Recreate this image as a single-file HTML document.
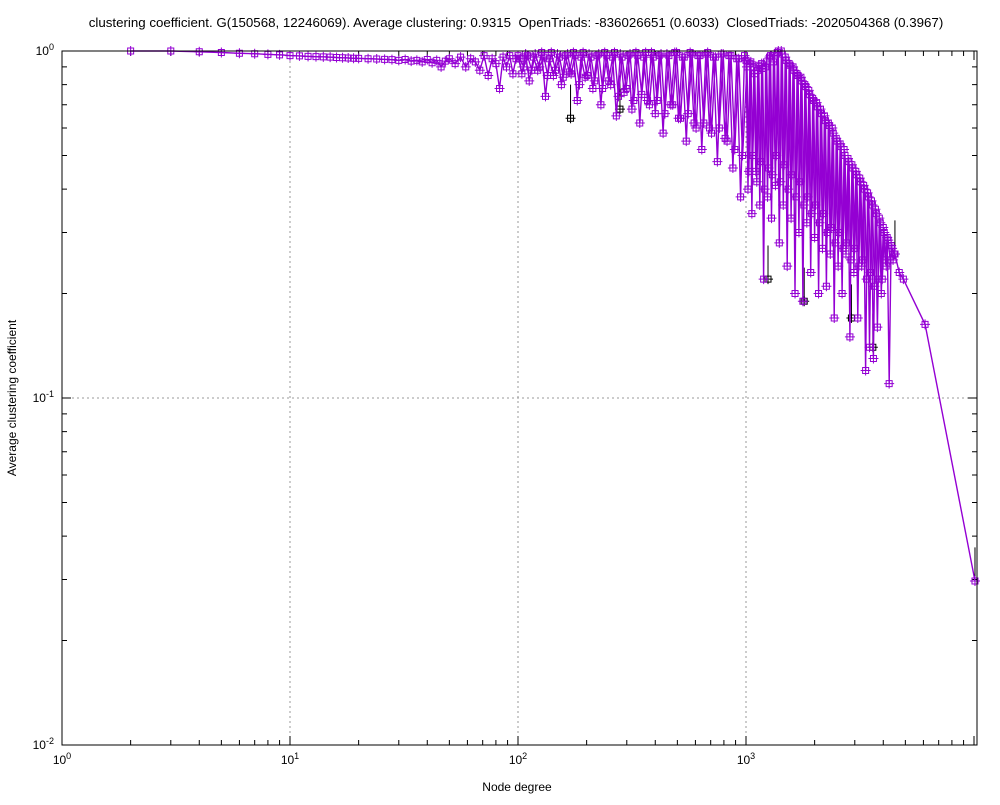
<!DOCTYPE html>
<html><head><meta charset="utf-8"><style>
body{margin:0;background:#fff;font-family:"Liberation Sans",Arial,sans-serif}
svg text{font-family:"Liberation Sans",Arial,sans-serif;font-size:12px;fill:#000}
</style></head><body>
<svg id="chart" width="1000" height="800" xmlns="http://www.w3.org/2000/svg">
<rect width="1000" height="800" fill="#fff"/>
<text x="516" y="27" text-anchor="middle" style="white-space:pre;font-size:13.3px">clustering coefficient. G(150568, 12246069). Average clustering: 0.9315  OpenTriads: -836026651 (0.6033)  ClosedTriads: -2020504368 (0.3967)</text>
<text x="517" y="791" text-anchor="middle">Node degree</text>
<text transform="translate(16,398) rotate(-90)" text-anchor="middle">Average clustering coefficient</text>
<g id="grid"></g><g id="axes"></g><g id="series"></g>
<rect x="62" y="51" width="915" height="694" fill="none" stroke="#000" stroke-width="1"/>
</svg>
<script>
const degrees=[2,3,4,5,6,7,8,9,10,11,12,13,14,15,16,17,18,19,20,22,24,26,28,30,32,34,36,38,40,42,44,46,48,50,53,56,59,62,65,68,71,74,77,80,83,86,89,92,95,98,
100,104,108,112,117,122,127,132,137,143,149,155,161,168,175,182,189,197,205,213,222,231,240,250,260,270,281,292,304,316,329,342,356,370,385,400,416,433,450,468,487,506,526,547,569,592,616,640,666,692,720,749,779,810,842,876,911,947,985,
1000,1020,1040,1061,1082,1104,1126,1149,1172,1195,1219,1243,1268,1294,1319,1346,1373,1400,1428,1457,1486,1516,1546,1577,1608,1641,1673,1707,1741,1776,1811,1848,1885,1922,1961,2000,2040,2081,2122,2165,2208,2252,2297,2343,2390,2438,2487,2536,2587,2639,2692,2745,2800,2856,2913,2972,3031,3092,3154,3217,3281,3347,3414,3482,3551,3622,3695,3769,3844,3921,4000,4080,4161,4245,4330,4416,4500,4700,4900,6100,10100];
const clustering=[1,1,0.995,0.99,0.985,0.982,0.978,0.975,0.97,0.968,0.965,0.963,0.962,0.96,0.958,0.956,0.955,0.953,0.952,0.95,0.948,0.946,0.944,0.94,0.945,0.935,0.94,0.93,0.945,0.925,0.94,0.90,0.935,0.95,0.92,0.96,0.90,0.95,0.93,0.88,0.97,0.85,0.95,0.92,0.78,0.96,0.90,0.97,0.86,0.95,
0.97,0.86,0.98,0.82,0.96,0.88,0.99,0.74,0.95,0.85,0.98,0.80,0.97,0.87,0.99,0.72,0.96,0.84,0.98,0.78,0.97,0.70,0.99,0.82,0.96,0.65,0.98,0.76,0.97,0.68,0.99,0.62,0.96,0.72,0.99,0.66,0.97,0.58,0.98,0.70,0.99,0.64,0.96,0.55,0.99,0.62,0.97,0.52,0.98,0.60,0.96,0.48,0.98,0.56,0.97,0.46,0.95,0.38,0.97,
0.94,0.40,0.92,0.34,0.90,0.45,0.88,0.36,0.92,0.22,0.90,0.38,0.96,0.33,0.93,0.41,0.99,0.28,1.0,0.36,0.96,0.24,0.92,0.33,0.90,0.20,0.86,0.30,0.84,0.19,0.80,0.32,0.77,0.23,0.73,0.29,0.71,0.20,0.68,0.27,0.65,0.21,0.62,0.26,0.60,0.17,0.56,0.24,0.54,0.20,0.52,0.26,0.49,0.15,0.47,0.23,0.45,0.17,0.43,0.24,0.41,0.12,0.39,0.14,0.37,0.13,0.35,0.16,0.33,0.20,0.31,0.25,0.29,0.11,0.275,0.25,0.26,0.23,0.22,0.163,0.0297];
const extraDegrees=[102,106,110,115,119,124,130,135,140,146,152,158,165,171,178,186,193,201,209,217,226,235,245,255,265,276,286,298,310,322,335,349,363,377,392,408,424,441,459,477,496,516,536,558,580,604,628,653,679,706,734,764,794,826,859,893,929,966,
1010,1030,1050,1071,1093,1115,1137,1160,1183,1207,1231,1255,1281,1306,1332,1359,1386,1414,1442,1471,1501,1531,1561,1592,1624,1657,1690,1724,1758,1793,1829,1866,1903,1941,1980,2020,2060,2101,2143,2186,2230,2274,2320,2366,2414,2462,2511,2561,2613,2665,2718,2772,2828,2884,2942,3001,3061,3123,3185,3249,3314,3380,3448,3516,3586,3658,3732,3806,3882,3960,4040,4120,4203,4287,4373,4458];
const extraClustering=[0.95,0.90,0.97,0.88,0.98,0.90,0.96,0.85,0.99,0.88,0.96,0.84,0.98,0.86,0.97,0.80,0.99,0.85,0.96,0.82,0.98,0.78,0.97,0.80,0.99,0.74,0.96,0.78,0.98,0.72,0.97,0.75,0.99,0.70,0.96,0.72,0.98,0.66,0.97,0.70,0.99,0.64,0.96,0.66,0.98,0.60,0.97,0.62,0.99,0.58,0.96,0.60,0.98,0.55,0.97,0.52,0.95,0.50,
0.90,0.45,0.93,0.50,0.86,0.42,0.91,0.48,0.89,0.40,0.93,0.46,0.97,0.44,0.98,0.50,1.0,0.42,0.98,0.47,0.94,0.40,0.91,0.44,0.88,0.38,0.85,0.42,0.82,0.36,0.79,0.38,0.75,0.34,0.72,0.36,0.69,0.32,0.66,0.34,0.63,0.30,0.61,0.31,0.58,0.28,0.55,0.30,0.53,0.27,0.50,0.28,0.48,0.25,0.46,0.27,0.44,0.24,0.42,0.25,0.40,0.22,0.38,0.23,0.36,0.21,0.34,0.22,0.32,0.22,0.30,0.24,0.285,0.25,0.27,0.26];
const blackDegrees=[170,280,1249,1800,2900,3600,4500,10100];
const blackValues=[0.64,0.68,0.22,0.19,0.17,0.14,0.26,0.0297];
const xTickExps=[0,1,2,3];
const yTickExps=[0,-1,-2];

const X0=62,X1=977,Y0=51,Y1=745,DEC_X=228,DEC_Y=347;
const xs=d=>X0+Math.log10(d)*DEC_X;
const ys=v=>Y0-Math.log10(v)*DEC_Y;
const NS="http://www.w3.org/2000/svg";
function mk(tag,attrs,parent){const e=document.createElementNS(NS,tag);for(const k in attrs)e.setAttribute(k,attrs[k]);parent.appendChild(e);return e;}
const grid=document.getElementById('grid'),axes=document.getElementById('axes'),ser=document.getElementById('series');

xTickExps.forEach(p=>{const x=xs(Math.pow(10,p));
 if(p>0){const g=mk('line',{x1:x,x2:x,y1:Y0,y2:Y1,stroke:'#999','stroke-dasharray':'2,3','stroke-width':1},grid);
 
 }
 const t=mk('text',{x:x,y:Y1+19,'text-anchor':'middle'},axes);
 
 
 t.innerHTML='10<tspan dy="-5" font-size="9">'+p+'</tspan>';
});
yTickExps.forEach(p=>{const y=ys(Math.pow(10,p));
 if(p<0&&p>-2){const g=mk('line',{x1:X0,x2:X1,y1:y,y2:y,stroke:'#999','stroke-dasharray':'2,3','stroke-width':1},grid);
 
 }
 const t=mk('text',{x:X0-8,y:y+4,'text-anchor':'end'},axes);
 
 
 t.innerHTML='10<tspan dy="-5" font-size="9">'+p+'</tspan>';
});
let tp='';
for(let p=0;p<5;p++)for(let m=1;m<10;m++){const d=m*Math.pow(10,p);if(d>10200)break;const x=xs(d);const L=m==1?9:5;
 tp+=`M${x} ${Y1}v${-L}M${x} ${Y0}v${L}`;}
for(let p=-2;p<0;p++)for(let m=1;m<10;m++){const y=ys(m*Math.pow(10,p));const L=m==1?9:5;
 tp+=`M${X0} ${y}h${L}M${X1} ${y}h${-L}`;}
const tk=mk('path',{d:tp,stroke:'#000','stroke-width':1,fill:'none'},axes);



function marker(x,y,c,parent){return mk('path',{d:`M${x-3} ${y-3}h6v6h-6zM${x-5} ${y}h10M${x} ${y-5}v10`,stroke:c,fill:'none','stroke-width':1},parent);}

let bd='';blackDegrees.forEach((d,i)=>{const x=xs(d),y=ys(blackValues[i]);bd+=`M${x} ${y}V${ys(blackValues[i]*1.25)}`;});
const bl=mk('path',{d:bd,stroke:'#000',fill:'none'},ser);


blackDegrees.forEach((d,i)=>{const m=marker(xs(d),ys(blackValues[i]),'#000',ser);
 
 });

const ed=extraDegrees.map((d,i)=>(i&&d-extraDegrees[i-1]<200?'L':'M')+xs(d).toFixed(1)+' '+ys(extraClustering[i]).toFixed(1)).join('');
const el2=mk('path',{d:ed,stroke:'#9400d3',fill:'none','stroke-width':1.4},ser);


extraDegrees.forEach((d,i)=>{const m=marker(xs(d),ys(extraClustering[i]),'#9400d3',ser);
 
 });

const pd=degrees.map((d,i)=>(i?'L':'M')+xs(d).toFixed(1)+' '+ys(clustering[i]).toFixed(1)).join('');
const pl=mk('path',{d:pd,stroke:'#9400d3',fill:'none','stroke-width':1.4},ser);


degrees.forEach((d,i)=>{const m=marker(xs(d),ys(clustering[i]),'#9400d3',ser);
 
 });
</script>
</body></html>
